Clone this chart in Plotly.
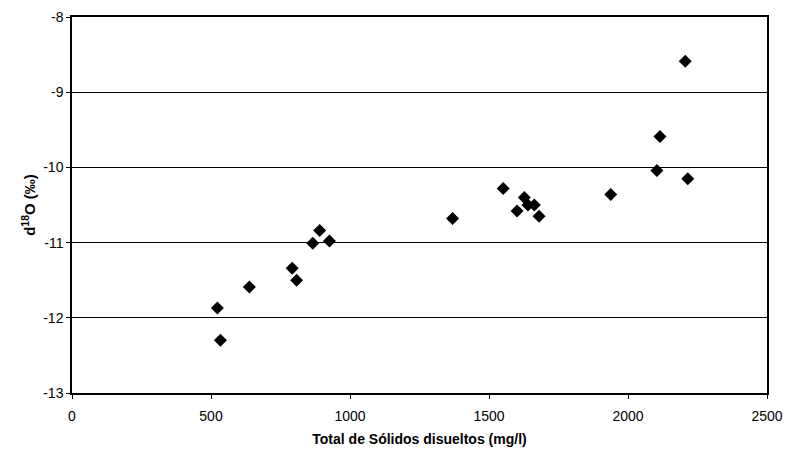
import plotly.graph_objects as go

tds = [523, 534, 638, 792, 808, 866, 891, 926, 1369, 1551, 1601, 1627, 1640, 1663, 1680, 1938, 2104, 2115, 2215, 2206]
d18o = [-11.87, -12.30, -11.59, -11.34, -11.50, -11.01, -10.84, -10.98, -10.68, -10.28,
        -10.58, -10.40, -10.50, -10.50, -10.65, -10.36, -10.04, -9.59, -10.15, -8.59]

x_ticks = [0, 500, 1000, 1500, 2000, 2500]
y_ticks = [-13, -12, -11, -10, -9, -8]

fig = go.Figure()
fig.add_trace(go.Scatter(
    x=tds, y=d18o, mode="markers",
    marker=dict(symbol="diamond", size=10, color="black"),
    showlegend=False,
))

font = "Liberation Sans, Arial, sans-serif"
fig.update_layout(
    width=793, height=450,
    margin=dict(l=64, r=34, t=9, b=65),
    paper_bgcolor="white", plot_bgcolor="white",
    font=dict(family=font, color="black", size=13),
)
fig.update_xaxes(
    range=[0, 2500], tickvals=x_ticks, ticktext=[str(v) for v in x_ticks],
    showgrid=False, zeroline=False, automargin=False,
    showline=True, linecolor="black", linewidth=1.5, mirror=True,
    ticks="outside", ticklen=4, tickcolor="black",
    ticklabelstandoff=5,
    tickfont=dict(size=14),
    title=dict(text="<b>Total de Sólidos disueltos (mg/l)</b>", font=dict(size=14), standoff=12),
)
fig.update_yaxes(
    range=[-13, -8], tickvals=y_ticks, ticktext=[str(v) for v in y_ticks],
    showgrid=True, gridcolor="black", gridwidth=1, zeroline=False, automargin=False,
    showline=True, linecolor="black", linewidth=1.5, mirror=True,
    ticks="outside", ticklen=4, tickcolor="black",
    tickfont=dict(size=14),
    title=dict(text="<b>d<sup>18</sup>O (‰)</b>", font=dict(size=15), standoff=4),
)
fig.write_html("out.html")
